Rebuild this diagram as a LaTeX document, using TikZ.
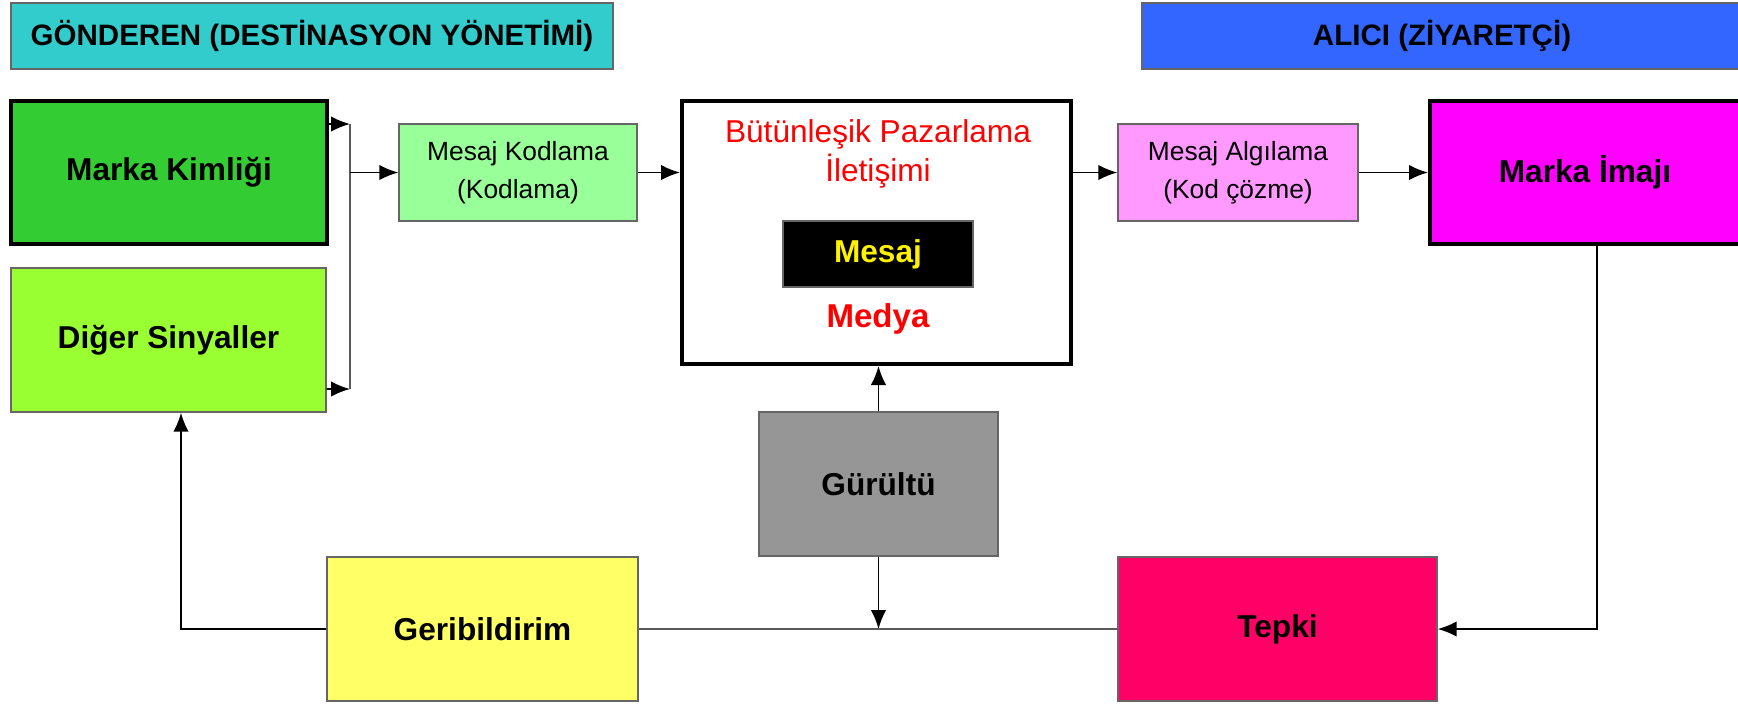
\documentclass[tikz,border=0pt]{standalone}
\usepackage{fontspec}
\setmainfont{Liberation Sans}
\usetikzlibrary{arrows.meta}
\definecolor{hdrcyan}{RGB}{51,204,204}
\definecolor{hdrblue}{RGB}{51,102,255}
\definecolor{kimlikgreen}{RGB}{51,204,51}
\definecolor{sinyalgreen}{RGB}{153,255,51}
\definecolor{kodgreen}{RGB}{153,255,153}
\definecolor{algpink}{RGB}{255,153,255}
\definecolor{imajmagenta}{RGB}{255,0,255}
\definecolor{tepkired}{RGB}{255,0,102}
\definecolor{geriyellow}{RGB}{255,255,102}
\definecolor{noisegray}{RGB}{150,150,150}

\begin{document}
\begin{tikzpicture}[
    box/.style={draw=gray!80!black, line width=0.4pt, inner sep=0pt, align=center},
    thickbox/.style={draw=black, line width=1.15pt, inner sep=0pt, align=center},
    hdrtxt/.style={font=\fontsize{8.4}{10}\selectfont\bfseries},
    bigtxt/.style={font=\fontsize{9}{11}\selectfont\bfseries},
    smalltxt/.style={font=\fontsize{7.5}{10.7}\selectfont},
    arr/.style={-{Latex[length=5.4pt,width=4.4pt]}, line width=0.5pt},
  ]
  \useasboundingbox (0,0) rectangle (17.38,-7.03);

  % headers
  \node[box, hdrtxt, fill=hdrcyan, minimum width=6.02cm, minimum height=0.66cm] (gonderen) at (3.12,-0.36) {GÖNDEREN (DESTİNASYON YÖNETİMİ)};
  \node[box, hdrtxt, fill=hdrblue, minimum width=6.0cm, minimum height=0.66cm] (alici) at (14.42,-0.36) {ALICI (ZİYARETÇİ)};

  % boxes
  \node[thickbox, bigtxt, fill=kimlikgreen, minimum width=3.16cm, minimum height=1.43cm] (kimlik) at (1.69,-1.725) {Marka Kimliği};
  \node[box, bigtxt, fill=sinyalgreen, minimum width=3.15cm, minimum height=1.44cm] (sinyal) at (1.685,-3.40) {Diğer Sinyaller};
  \node[box, smalltxt, fill=kodgreen, minimum width=2.38cm, minimum height=0.97cm] (kodlama) at (5.18,-1.725) {Mesaj Kodlama\\(Kodlama)};
  \node[thickbox, fill=white, minimum width=3.89cm, minimum height=2.63cm] (imc) at (8.765,-2.325) {};
  \node[font=\fontsize{9}{11}\selectfont, text=red, align=center] (imctitle) at (8.78,-1.54) {Bütünleşik Pazarlama\\İletişimi};
  \node[box, bigtxt, fill=black, text=yellow, minimum width=1.90cm, minimum height=0.66cm] (mesaj) at (8.78,-2.54) {Mesaj};
  \node[font=\fontsize{9.4}{11}\selectfont\bfseries, text=red] (medya) at (8.78,-3.19) {Medya};
  \node[box, smalltxt, fill=algpink, minimum width=2.40cm, minimum height=0.97cm] (algilama) at (12.38,-1.725) {Mesaj Algılama\\(Kod çözme)};
  \node[thickbox, bigtxt, fill=imajmagenta, minimum width=3.10cm, minimum height=1.43cm] (imaj) at (15.85,-1.725) {Marka İmajı};
  \node[box, bigtxt, fill=noisegray, minimum width=2.39cm, minimum height=1.44cm] (gurultu) at (8.785,-4.84) {Gürültü};
  \node[box, bigtxt, fill=tepkired, minimum width=3.19cm, minimum height=1.44cm] (tepki) at (12.775,-6.29) {Tepki};
  \node[box, bigtxt, fill=geriyellow, minimum width=3.11cm, minimum height=1.44cm] (geri) at (4.825,-6.29) {Geribildirim};

  % bracket
  \coordinate (brtop) at (3.50,-1.24);
  \coordinate (brbot) at (3.50,-3.89);
  \draw[arr] ([yshift=4.85mm]kimlik.east) -- (brtop);
  \draw[arr] ([yshift=-4.9mm]sinyal.east) -- (brbot);
  \draw[line width=0.5pt, gray!70!black] (brtop) -- (brbot);
  \draw[arr] (brtop |- kodlama.west) -- (kodlama.west);

  % main flow
  \draw[arr] (kodlama.east) -- (kodlama.east -| imc.west);
  \draw[arr] (algilama.west -| imc.east) -- (algilama.west);
  \draw[arr] (algilama.east) -- (algilama.east -| imaj.west);
  \draw[arr] ([xshift=1.2mm]imaj.south) |- (tepki.east);

  % noise
  \draw[arr] (gurultu.north) -- (gurultu.north |- imc.south);
  \draw[arr] (gurultu.south) -- (gurultu.south |- tepki.west);

  % feedback
  \draw[line width=0.5pt, gray!70!black] (tepki.west) -- (geri.east);
  \draw[arr] (geri.west) -| ([xshift=1.25mm]sinyal.south);
\end{tikzpicture}
\end{document}
